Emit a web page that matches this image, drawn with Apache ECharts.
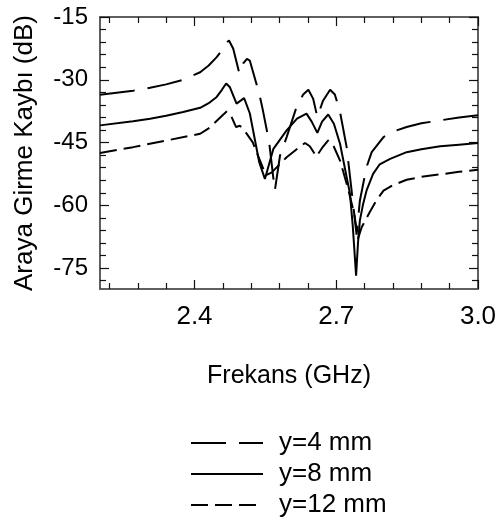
<!DOCTYPE html>
<html>
<head>
<meta charset="utf-8">
<script src="https://cdn.jsdelivr.net/npm/echarts@6/dist/echarts.min.js"></script>
<style>html,body{margin:0;padding:0;background:#fff}#c{width:499px;height:521px}</style>
</head>
<body>
<div id="c"></div>
<script>
const seriesNames = ['y=4 mm', 'y=8 mm', 'y=12 mm'];

const freq4 = [2.200, 2.270, 2.306, 2.340, 2.376, 2.412, 2.430, 2.447, 2.457, 2.467, 2.473, 2.482, 2.495, 2.503, 2.511, 2.517, 2.537, 2.544, 2.558, 2.570, 2.581, 2.595, 2.616, 2.630, 2.641, 2.651, 2.660, 2.672, 2.687, 2.697, 2.708, 2.722, 2.733, 2.743, 2.750, 2.764, 2.775, 2.800, 2.820, 2.849, 2.880, 2.920, 2.960, 3.000];
const loss4 = [-33.6, -32.6, -31.9, -31.1, -30.0, -28.2, -26.6, -24.6, -23.1, -21.2, -20.6, -22.6, -28.5, -26.1, -25.0, -25.4, -33.3, -36.9, -44.9, -56.5, -48.1, -43.7, -36.5, -33.5, -32.4, -34.5, -38.9, -35.0, -32.4, -33.5, -37.7, -46.1, -57.0, -67.0, -58.9, -50.9, -47.3, -43.7, -42.4, -41.3, -40.4, -39.7, -39.0, -38.5];

const freq8 = [2.200, 2.270, 2.306, 2.340, 2.376, 2.412, 2.430, 2.447, 2.458, 2.467, 2.475, 2.489, 2.505, 2.517, 2.537, 2.549, 2.567, 2.595, 2.617, 2.637, 2.648, 2.660, 2.670, 2.683, 2.695, 2.708, 2.729, 2.735, 2.742, 2.746, 2.750, 2.757, 2.764, 2.778, 2.792, 2.814, 2.849, 2.880, 2.920, 2.960, 3.000];
const loss8 = [-40.9, -39.9, -39.3, -38.6, -37.7, -36.7, -35.6, -34.1, -32.4, -30.9, -31.8, -35.7, -34.4, -38.0, -49.7, -53.7, -46.5, -42.1, -39.3, -38.1, -40.0, -42.7, -40.0, -38.3, -40.5, -45.3, -57.2, -65.0, -76.8, -69.0, -63.6, -59.6, -56.5, -52.5, -50.2, -48.9, -47.3, -46.6, -45.9, -45.5, -45.1];

const freq12 = [2.200, 2.270, 2.341, 2.412, 2.430, 2.450, 2.460, 2.468, 2.477, 2.488, 2.496, 2.503, 2.523, 2.534, 2.551, 2.563, 2.595, 2.613, 2.634, 2.644, 2.658, 2.670, 2.683, 2.695, 2.708, 2.725, 2.738, 2.746, 2.754, 2.771, 2.785, 2.800, 2.820, 2.849, 2.880, 2.920, 2.960, 3.000];
const loss12 = [-47.5, -46.1, -44.5, -42.9, -41.6, -39.5, -38.4, -37.6, -38.5, -41.3, -41.0, -41.7, -44.9, -48.0, -52.8, -52.2, -48.5, -46.9, -45.1, -45.9, -48.3, -46.3, -44.5, -46.0, -49.3, -56.0, -62.0, -68.0, -65.2, -61.6, -58.8, -56.5, -55.2, -53.9, -53.2, -52.6, -52.0, -51.5];

const xMajorTicks = [2.4, 2.7, 3.0];
const xMinorTicks = [2.22, 2.28, 2.34, 2.46, 2.52, 2.58, 2.64, 2.76, 2.82, 2.88, 2.94];
const yMajorTicks = [-75, -60, -45, -30, -15];
const yMinorTicks = [-78, -72, -69, -66, -63, -57, -54, -51, -48, -42, -39, -36, -33, -27, -24, -21, -18];

const FONT = 'Liberation Sans, Arial, Helvetica, sans-serif';
const zip = (a, b) => a.map((v, i) => [v, b[i]]);

function xAx(pos, ticks, len, labels, extra) {
  return Object.assign({
    type: 'value', min: 2.2, max: 3.0, position: pos,
    axisLine: { show: true, onZero: false, lineStyle: { color: '#555', width: 1.5 } },
    axisTick: { show: true, inside: true, length: len, customValues: ticks, lineStyle: { color: '#111', width: 1.2 } },
    axisLabel: labels ? { show: true, customValues: xMajorTicks, fontSize: 26, fontFamily: FONT, color: '#000', margin: 15, formatter: v => v.toFixed(1) } : { show: false },
    splitLine: { show: false }
  }, extra || {});
}
function yAx(pos, ticks, len, labels, extra) {
  return Object.assign({
    type: 'value', min: -80, max: -15, position: pos,
    axisLine: { show: true, onZero: false, lineStyle: { color: '#555', width: 1.5 } },
    axisTick: { show: true, inside: true, length: len, customValues: ticks, lineStyle: { color: '#111', width: 1.2 } },
    axisLabel: labels ? { show: true, customValues: yMajorTicks, fontSize: 24, fontFamily: FONT, color: '#000', margin: 12 } : { show: false },
    splitLine: { show: false }
  }, extra || {});
}

const chart = echarts.init(document.getElementById('c'), null, { renderer: 'canvas' });
chart.setOption({
  animation: false,
  backgroundColor: '#fff',
  grid: { left: 100, right: 21, top: 17, bottom: 232, outerBoundsMode: 'none', containLabel: false },
  xAxis: [
    xAx('bottom', xMajorTicks, 9, true, {
      name: 'Frekans (GHz)', nameLocation: 'middle', nameGap: 87,
      nameTextStyle: { fontSize: 25, fontFamily: FONT, color: '#000', verticalAlign: 'middle' }
    }),
    xAx('bottom', xMinorTicks, 6, false),
    xAx('top', xMajorTicks, 9, false),
    xAx('top', xMinorTicks, 6, false)
  ],
  yAxis: [
    yAx('left', yMajorTicks, 9, true, {
      name: 'Araya Girme Kaybı (dB)', nameLocation: 'middle', nameGap: 75, nameRotate: 90,
      nameTextStyle: { fontSize: 26, fontFamily: FONT, color: '#000', verticalAlign: 'middle' }
    }),
    yAx('left', yMinorTicks, 6, false),
    yAx('right', yMajorTicks, 9, false),
    yAx('right', yMinorTicks, 6, false)
  ],
  legend: {
    orient: 'vertical', left: 190, top: 429, width: 260, height: 92, padding: 0,
    itemWidth: 72, itemHeight: 14, itemGap: 3,
    itemStyle: { opacity: 0 },
    lineStyle: { width: 2 },
    textStyle: { fontSize: 26, lineHeight: 28, fontFamily: FONT, color: '#000', padding: [0, 0, 0, 11] },
    data: seriesNames
  },
  series: [
    { name: seriesNames[0], type: 'line', data: zip(freq4, loss4), symbol: 'none', showSymbol: false,
      lineStyle: { color: '#000', width: 2, type: [35, 13] }, itemStyle: { color: '#000' } },
    { name: seriesNames[1], type: 'line', data: zip(freq8, loss8), symbol: 'none', showSymbol: false,
      lineStyle: { color: '#000', width: 2, type: 'solid' }, itemStyle: { color: '#000' } },
    { name: seriesNames[2], type: 'line', data: zip(freq12, loss12), symbol: 'none', showSymbol: false,
      lineStyle: { color: '#000', width: 2, type: [17, 7] }, itemStyle: { color: '#000' } }
  ]
});
</script>
</body>
</html>
